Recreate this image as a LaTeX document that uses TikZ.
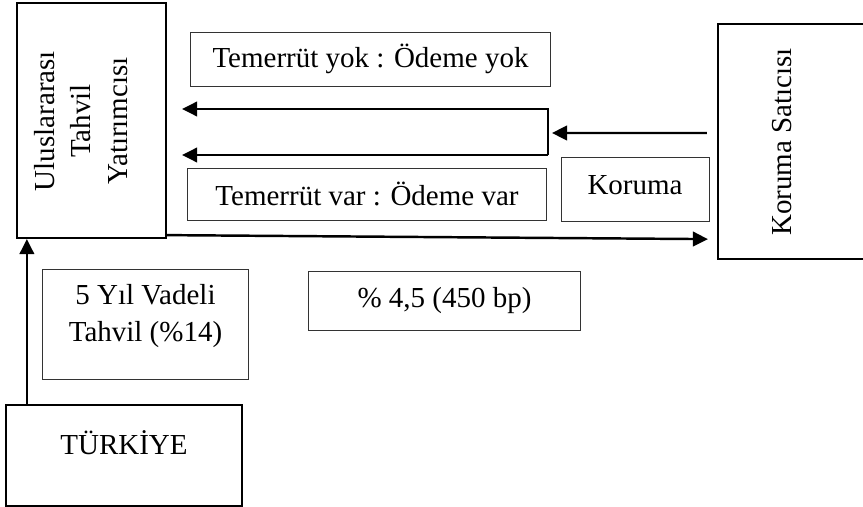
\documentclass[tikz,border=0pt]{standalone}
\usepackage{fontspec}
\setmainfont{Liberation Serif}
\usetikzlibrary{arrows.meta}

\begin{document}
\begin{tikzpicture}[x=0.02cm,y=-0.02cm,
	every node/.style={font=\fontsize{16.5}{20.8}\selectfont, inner sep=0pt},
	partybox/.style={draw, line width=1.3pt},
	labelbox/.style={draw=black!80, line width=0.55pt},
	arr/.style={line width=1.4pt, -{Triangle[length=0.3cm,width=0.29cm]}}]
	\useasboundingbox (0,0) rectangle (863,507);

	% parties
	\node[partybox, minimum width=2.98cm, minimum height=4.70cm] (inv) at (91.5,120.5) {};
	\node[rotate=90, align=center] (invtext) at (81,121) {Uluslararası\\Tahvil\\Yatırımcısı};
	\node[partybox, minimum width=3.64cm, minimum height=4.70cm] (seller) at (809,141.5) {};
	\node[rotate=90] (sellertext) at (782,142) {Koruma Satıcısı};
	\node[partybox, minimum width=4.72cm, minimum height=2.02cm] (tr) at (124,455.5) {};
	\node (trtext) at (124,443) {TÜRKİYE};

	% labels
	\node[labelbox, minimum width=7.22cm, minimum height=1.08cm] (nodef) at (370.5,59) {Temerrüt yok : Ödeme yok};
	\node[labelbox, minimum width=7.20cm, minimum height=1.04cm] (def) at (367,194) {Temerrüt var : Ödeme var};
	\node[labelbox, minimum width=2.96cm, minimum height=1.28cm] (prot) at (635,189) {};
	\node (prottext) at (635,185) {Koruma};
	\node[labelbox, minimum width=4.14cm, minimum height=2.20cm] (bond) at (145.5,324) {};
	\node[align=center] (bondtext) at (145.5,316) {5 Yıl Vadeli\\Tahvil (\%14)};
	\node[labelbox, minimum width=5.46cm, minimum height=1.18cm] (spread) at (444.5,300.5) {\% 4,5 (450 bp)};

	% connectors
	\coordinate (top) at (548,109);
	\coordinate (bot) at (548,155);
	\coordinate (split) at (552,133);
	\draw[arr] ([xshift=-0.2cm,yshift=0.17cm]seller.west) -- (split);
	\draw[arr] (bot) -- (top) -- ([xshift=0.3cm]inv.east |- top);
	\draw[arr] (bot) -- ([xshift=0.3cm]inv.east |- bot);
	\draw[arr] ([yshift=0.08cm]inv.south east) -- ([xshift=-0.18cm,yshift=0.42cm]seller.south west);
	\draw[arr] ([xshift=0.44cm]tr.north west) -- ([xshift=0.44cm]tr.north west |- inv.south);
\end{tikzpicture}
\end{document}
